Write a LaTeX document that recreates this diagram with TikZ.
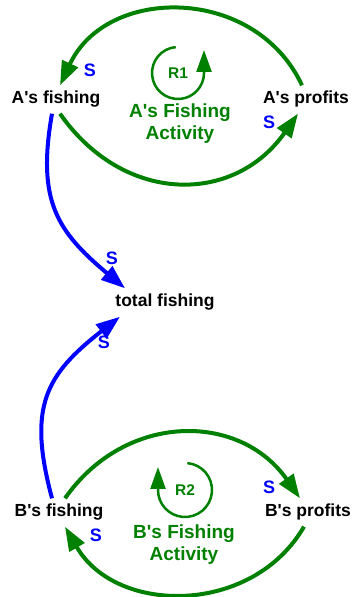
\documentclass[tikz,border=0pt]{standalone}
\usepackage{fontspec}
\setmainfont{Liberation Sans}[Ligatures=TeXOff]
\usetikzlibrary{arrows.meta}
\definecolor{loopgreen}{RGB}{0,128,0}

\begin{document}
\begin{tikzpicture}[x=1pt, y=1pt, line width=4pt,
    var/.style={font=\fontsize{17.5}{20}\selectfont\bfseries, inner sep=4pt, anchor=base},
    sign/.style={text=blue, font=\fontsize{18}{20}\selectfont\bfseries},
    looplabel/.style={text=loopgreen, font=\fontsize{19}{22}\selectfont\bfseries, align=center},
    loopname/.style={text=loopgreen, font=\fontsize{15.5}{18}\selectfont\bfseries},
    link/.style={color=loopgreen, -{Triangle[length=24pt, width=17pt]}},
    sumlink/.style={color=blue, line width=4pt, -{Triangle[length=24pt, width=17pt]}},
    looparrow/.style={color=loopgreen, line width=2.5pt, -{Triangle[length=22pt, width=15pt]}}]
    \useasboundingbox (0, 0) rectangle (351, 597);

    % draw variables
    \node[var] (af) at (56, 493) {A's fishing};
    \node[var] (ap) at (306, 493) {A's profits};
    \node[var] (tf) at (165, 290) {total fishing};
    \node[var] (bf) at (59, 80) {B's fishing};
    \node[var] (bp) at (308, 80) {B's profits};

    % draw loop names
    \node[looplabel] (actA) at (180, 473) {A's Fishing\\Activity};
    \node[looplabel] (actB) at (184, 52) {B's Fishing\\Activity};
    \node[loopname] (r1) at (178, 524) {R1};
    \node[loopname] (r2) at (185, 107) {R2};
    \draw[looparrow] ([shift={(95:26)}]r1.center) arc[start angle=95, end angle=360, radius=26] -- ++(0, 23);
    \draw[looparrow] ([shift={(85:27)}]r2.center) arc[start angle=85, end angle=-180, radius=27] -- ++(0, 23);

    % draw A's loop
    \draw[link] ([xshift=-4pt]ap.north) to[out=115, in=65, looseness=1.17] ([xshift=4pt]af.north);
    \draw[link] ([xshift=4pt]af.south) to[out=-55, in=-125, looseness=1.2] ([xshift=-8pt]ap.south);

    % draw B's loop
    \draw[link] ([xshift=6pt]bf.north) to[out=55, in=125, looseness=1.15] ([xshift=-8pt]bp.north);
    \draw[link] ([xshift=-4pt]bp.south) to[out=-120, in=-60, looseness=1.1] ([xshift=6pt]bf.south);

    % draw links to total fishing
    \draw[sumlink] ([xshift=-4pt]af.south) to[out=-100, in=140, looseness=1.2] ([xshift=-40pt]tf.north);
    \draw[sumlink] ([xshift=-7pt]bf.north) to[out=105, in=218, looseness=1.25] ([xshift=-45pt]tf.south);

    % draw signs
    \node[sign] (s1) at (90, 527) {S};
    \node[sign] (s2) at (269, 475) {S};
    \node[sign] (s3) at (112, 339) {S};
    \node[sign] (s4) at (104, 255) {S};
    \node[sign] (s5) at (269, 110) {S};
    \node[sign] (s6) at (96, 62) {S};

\end{tikzpicture}
\end{document}
